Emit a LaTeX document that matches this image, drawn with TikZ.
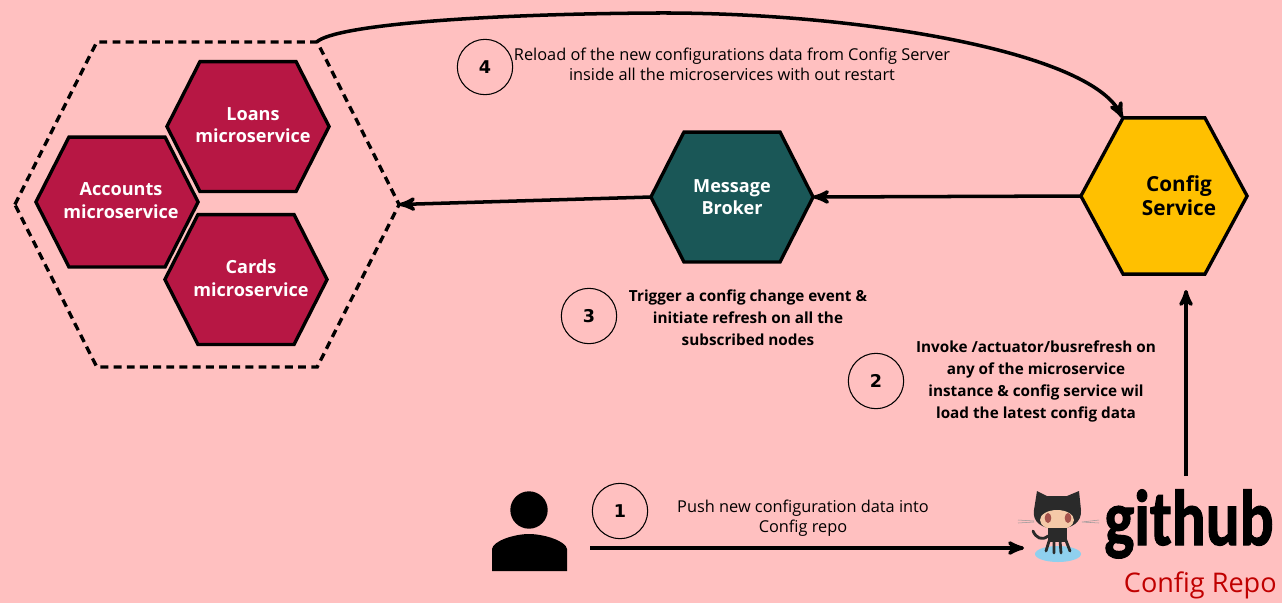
\documentclass[tikz,border=0pt]{standalone}
\usepackage{fontspec}
\setmainfont{Open Sans}
\newfontfamily\logofont[BoldFeatures={FakeBold=1.5}]{Carlito}
\newfontfamily\digitfont{DejaVu Sans}
\usetikzlibrary{arrows}
\definecolor{pagebg}{HTML}{FFC0C0}
\definecolor{msfill}{HTML}{B71744}
\definecolor{brokerfill}{HTML}{1A5757}
\definecolor{configfill}{HTML}{FFC000}
\definecolor{repored}{HTML}{C00000}
\definecolor{catdark}{HTML}{2A2A2A}
\definecolor{catface}{HTML}{F5C9A8}
\definecolor{cateye}{HTML}{A5524C}
\definecolor{catpool}{HTML}{8FD0EE}
\pgfkeys{/pgf/hexa inset/.initial=18pt}
\makeatletter
\pgfdeclareshape{hexa shape}{
    \inheritsavedanchors[from=rectangle]
    \inheritanchorborder[from=rectangle]
    \inheritanchor[from=rectangle]{center}
    \inheritanchor[from=rectangle]{north}
    \inheritanchor[from=rectangle]{south}
    \inheritanchor[from=rectangle]{west}
    \inheritanchor[from=rectangle]{east}
    \backgroundpath{
        \southwest \pgf@xa=\pgf@x \pgf@ya=\pgf@y
        \northeast \pgf@xb=\pgf@x \pgf@yb=\pgf@y
        \pgfmathsetlength\pgf@xc{\pgfkeysvalueof{/pgf/hexa inset}}
        \pgf@yc=0.5\pgf@ya \advance\pgf@yc by 0.5\pgf@yb
        \pgfpathmoveto{\pgfqpoint{\pgf@xa}{\pgf@yc}}
        \pgfpathlineto{\pgfpoint{\pgf@xa+\pgf@xc}{\pgf@yb}}
        \pgfpathlineto{\pgfpoint{\pgf@xb-\pgf@xc}{\pgf@yb}}
        \pgfpathlineto{\pgfqpoint{\pgf@xb}{\pgf@yc}}
        \pgfpathlineto{\pgfpoint{\pgf@xb-\pgf@xc}{\pgf@ya}}
        \pgfpathlineto{\pgfpoint{\pgf@xa+\pgf@xc}{\pgf@ya}}
        \pgfpathclose
    }
}
\makeatother
\tikzset{
    hexa/.style={
        shape=hexa shape,
        draw=black,
        line width=1.9pt,
        inner sep=0pt},
    service/.style={
        hexa,
        fill=msfill,
        minimum width=90.4pt,
        minimum height=72pt,
        /pgf/hexa inset=18.8pt},
    hexlabel/.style={
        align=center,
        text=white,
        font=\fontsize{10.3}{12.8}\selectfont\bfseries},
    stepnum/.style={
        circle,
        draw=black,
        line width=0.6pt,
        minimum size=31.5pt,
        inner sep=0pt,
        font=\digitfont\fontsize{10}{12}\selectfont\bfseries},
    note/.style={
        align=center,
        font=\fontsize{9.3}{11.4}\selectfont},
    boldnote/.style={
        align=center,
        font=\fontsize{8.7}{12.4}\selectfont\bfseries},
    link/.style={
        draw,
        ->,>=stealth',
        line width=2pt}}

\begin{document}
\begin{tikzpicture}[x=0.02cm,y=-0.02cm]
    \fill[pagebg] (0,0) rectangle (1282,603);
    \useasboundingbox (0,0) rectangle (1282,603);

    \node[hexa,dash pattern=on 4.5pt off 3pt,minimum width=216.8pt,minimum height=183pt,
        /pgf/hexa inset=46.6pt] (cluster) at (207,204.5) {};
    \node[service] (loans) at (248,126.5) {};
    \node[service] (accounts) at (117,202) {};
    \node[service] (cards) at (246,279.5) {};
    \node[hexlabel] (loanstext) at (253,125) {Loans\\microservice};
    \node[hexlabel] (accountstext) at (121,200.5) {Accounts\\microservice};
    \node[hexlabel] (cardstext) at (251,278) {Cards\\microservice};

    \node[service,hexlabel,fill=brokerfill] (broker) at (732,197) {Message\\Broker};
    \node[hexa,fill=configfill,minimum width=92.7pt,minimum height=87pt,
        /pgf/hexa inset=24pt] (config) at (1164,196) {};
    \node[hexlabel,text=black,font=\fontsize{11.8}{13.6}\selectfont\bfseries] (configtext) at (1179,196) {Config\\Service};

    \node[stepnum] (one) at (620,511) {1};
    \node[stepnum] (two) at (876,381) {2};
    \node[stepnum] (three) at (589,316) {3};
    \node[stepnum] (four) at (485,67) {4};

    \node[note] (pushnote) at (803,518) {Push new configuration data into\\Config repo};
    \node[boldnote] (invokenote) at (1036,381.5) {Invoke /actuator/busrefresh on\\any of the microservice\\instance \& config service wil\\load the latest config data};
    \node[boldnote] (triggernote) at (748,318) {Trigger a config change event \&\\initiate refresh on all the\\subscribed nodes};
    \node[note] (reloadnote) at (732,64) {Reload of the new configurations data from Config Server\\inside all the microservices with out restart};

    % user
    \fill (529,510) circle (18.7);
    \fill (492,571) -- (492,549) .. controls (493,541) and (514,534) .. (529,534)
        .. controls (544,534) and (566,541) .. (567,549) -- (567,571) -- cycle;
    \coordinate (user) at (590,548);

    % octocat
    \fill[catpool] (1058,554) ellipse (23 and 8);
    \fill[catdark] (1037,491) -- (1047,496) -- (1067,496) -- (1079,491) -- (1081,510)
        .. controls (1082,522) and (1072,529) .. (1057,529)
        .. controls (1042,529) and (1032,522) .. (1034,510) -- cycle;
    \fill[catface] (1057,520) ellipse (17 and 10);
    \fill[cateye] (1048,518) ellipse (3.3 and 5);
    \fill[cateye] (1068,518) ellipse (3.3 and 5);
    \draw[black!40,line width=0.3pt] (1018,520) -- (1034,521) (1018,523) -- (1034,522)
        (1082,522) -- (1099,520) (1082,522) -- (1099,523);
    \fill[catdark] (1048,528) rectangle (1067,542);
    \draw[catdark,line width=1.6pt,line cap=round] (1050,538) -- (1046,551) (1054,540) -- (1054,553)
        (1060,540) -- (1061,553) (1065,538) -- (1070,551)
        (1048,536) .. controls (1042,541) and (1036,538) .. (1033,531);

    \node[inner sep=0pt,anchor=base west,font=\logofont\fontsize{45}{45}\selectfont\bfseries] (github) at (1104,545) {\scalebox{0.8}[1]{github}};
    \node[inner sep=0pt,anchor=base east,text=repored,font=\fontsize{15.4}{16}\selectfont] (repolabel) at (1277,592) {Config Repo};
    \coordinate (octocat) at (1024,548);
    \coordinate (repo) at (1186,476);
    \coordinate (configin) at (1186,290);

    \draw[link] (user) -- (octocat);
    \draw[link] (repo) -- (configin);
    \draw[link] (config.west) -- (broker.east);
    \draw[link] (broker.west) -- (cluster.east);
    \draw[link] (cluster.56) .. controls (335,25) and (480,14) .. (656,13)
        .. controls (850,12) and (1090,50) .. (config.118);
\end{tikzpicture}
\end{document}
